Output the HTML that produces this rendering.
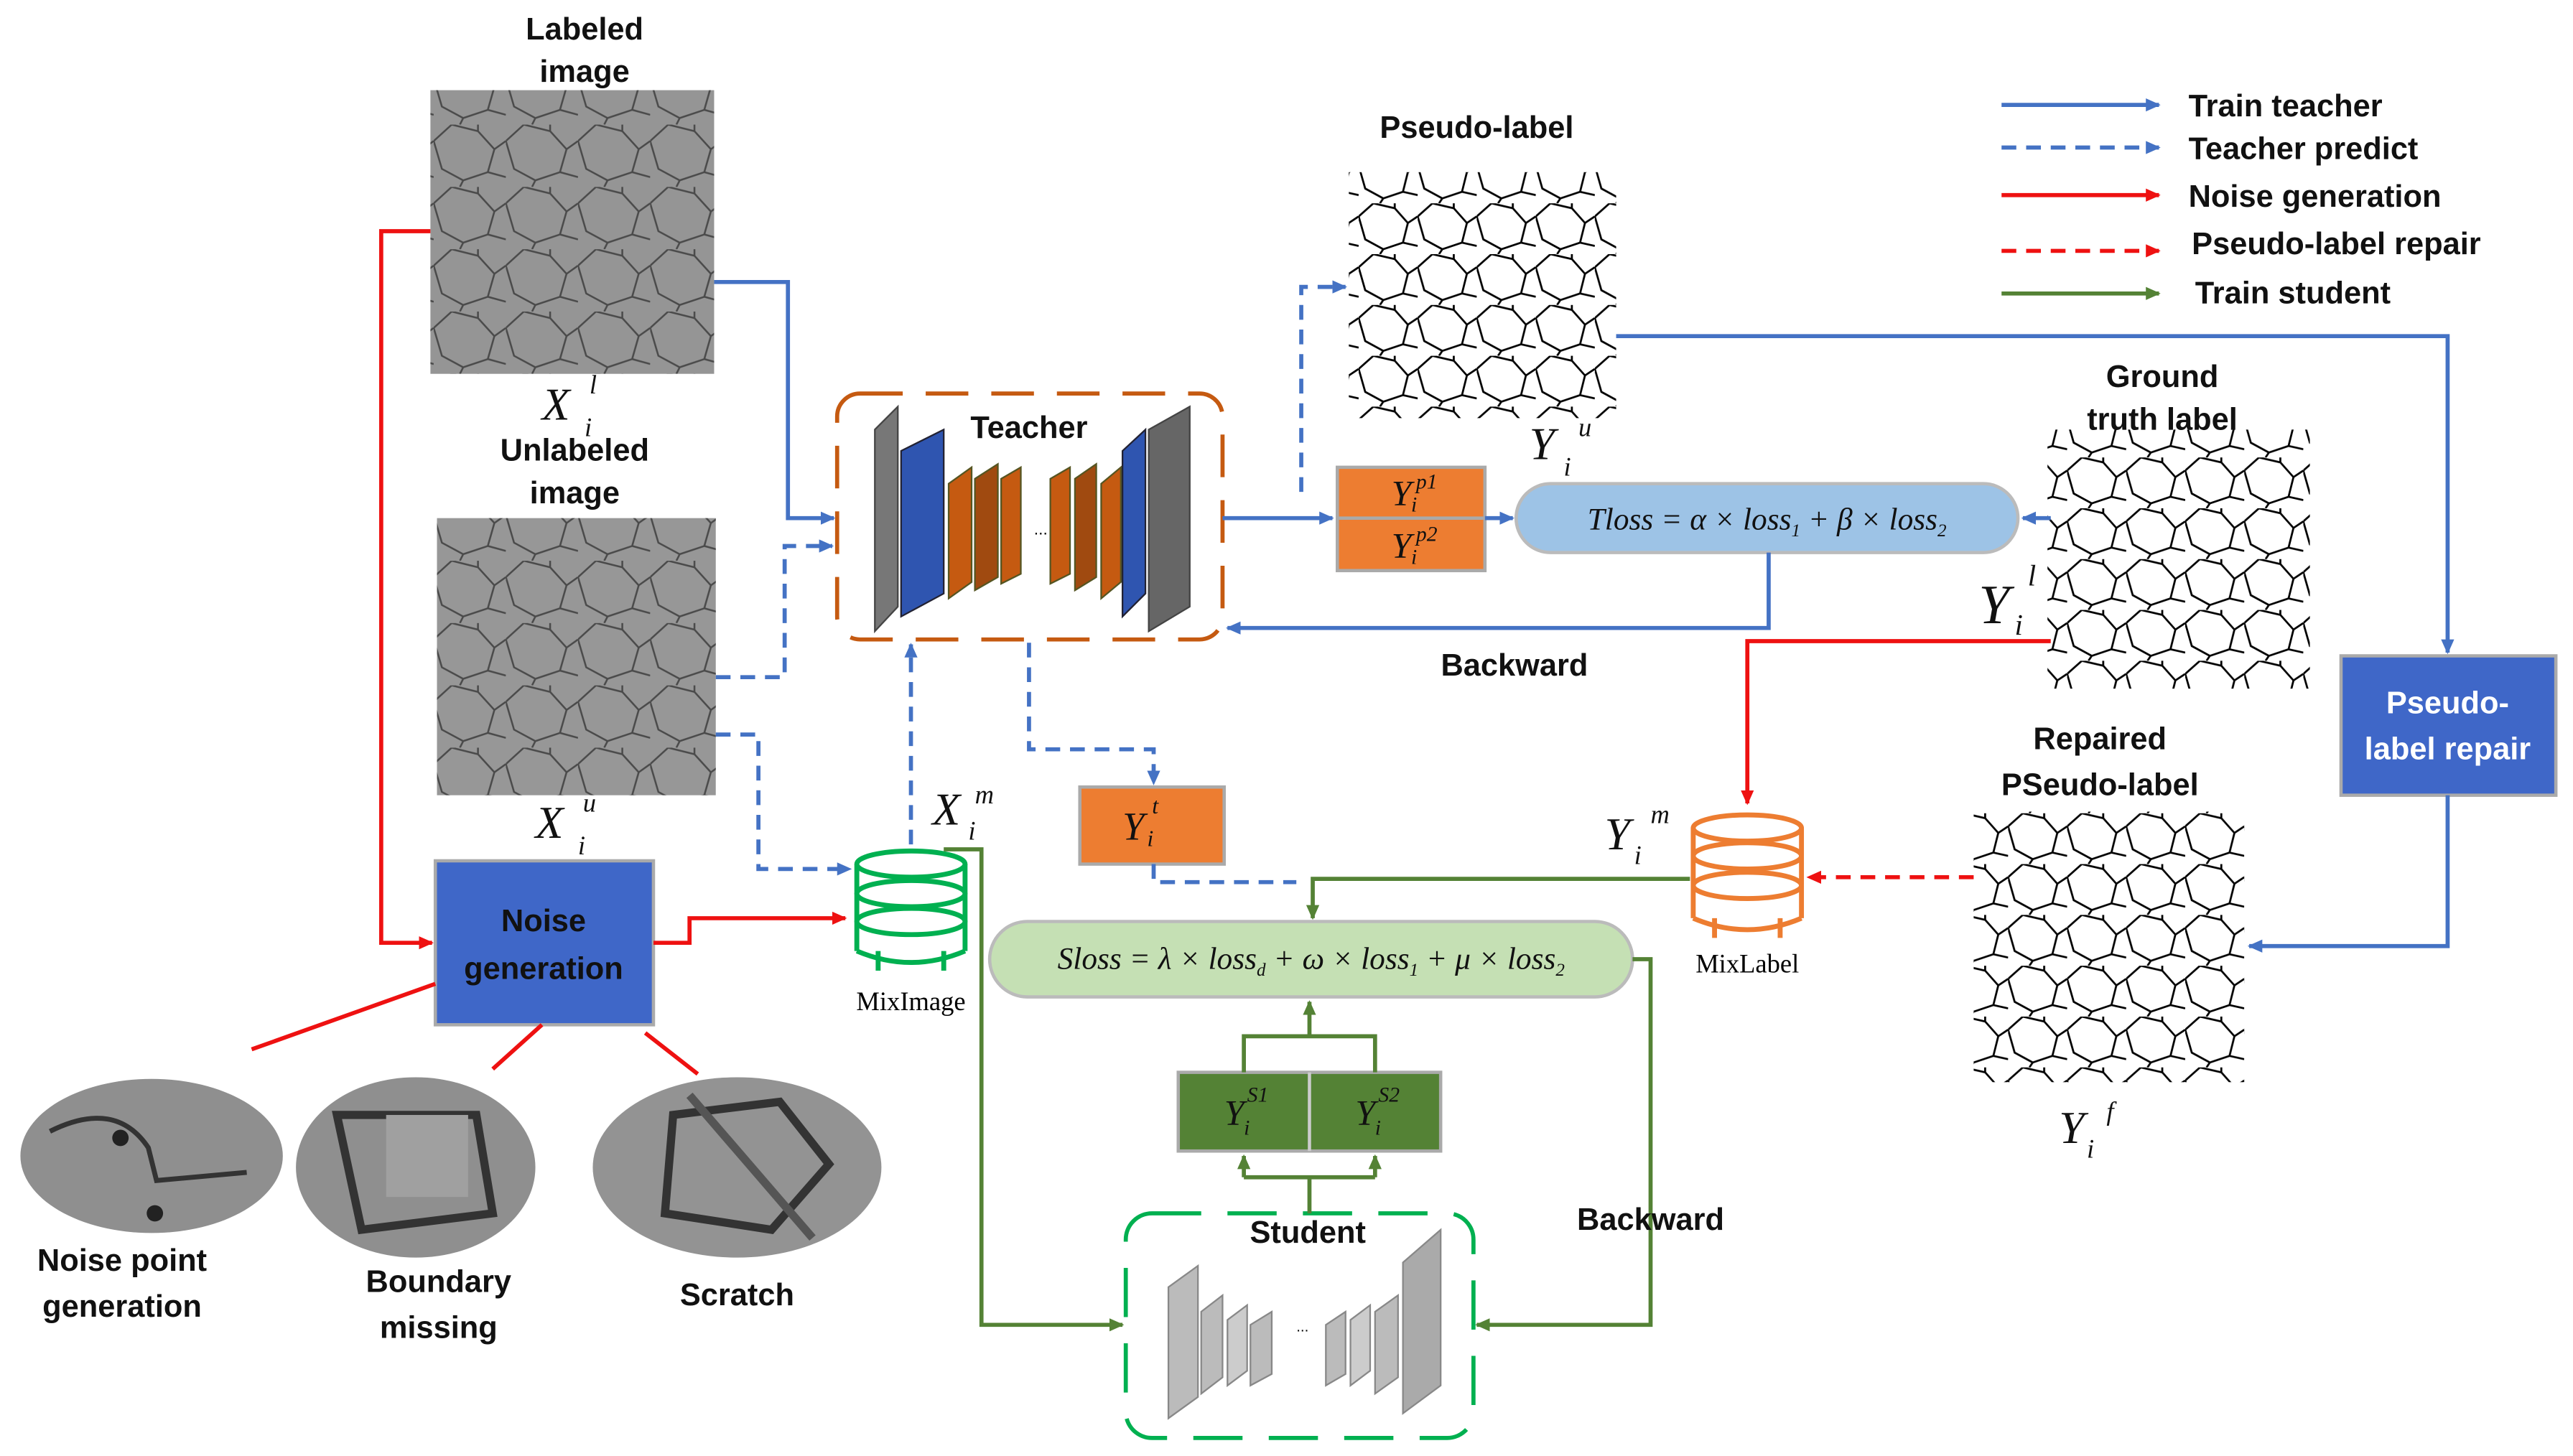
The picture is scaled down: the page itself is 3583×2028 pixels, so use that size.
<!DOCTYPE html>
<html><head><meta charset="utf-8"><style>
html,body{margin:0;padding:0;background:#fff;}
svg{display:block;}
.b{font-family:"Liberation Sans",sans-serif;font-weight:bold;font-size:19px;fill:#111;text-anchor:middle;}
.m{font-family:"Liberation Serif",serif;font-style:italic;fill:#111;}
.lg{font-family:"Liberation Sans",sans-serif;font-weight:bold;font-size:19px;fill:#111;}
</style></head><body>
<svg width="3583" height="2028" viewBox="0 0 1568 888" xmlns="http://www.w3.org/2000/svg">
<defs>
<pattern id="hexg" width="44" height="38" patternUnits="userSpaceOnUse">
<path d="M0 10 L11 0 L27 4 L37 15 L44 10 M37 15 L33 29 L18 34 L5 27 L0 10 M18 34 L16 38 M27 4 L27 0 M33 29 L44 32" stroke="#4a4a4a" stroke-width="1.1" fill="none"/>
</pattern>
<pattern id="hexw" width="36" height="31" patternUnits="userSpaceOnUse">
<path d="M0 8 L9 0 L22 3 L30 12 L36 8 M30 12 L27 24 L15 28 L4 22 L0 8 M15 28 L13 31 M22 3 L22 0 M27 24 L36 26" stroke="#000" stroke-width="1.2" fill="none"/>
</pattern>
<marker id="ab" markerWidth="10" markerHeight="10" refX="8" refY="5" orient="auto" markerUnits="userSpaceOnUse"><path d="M0 1 L9 5 L0 9z" fill="#4472c4"/></marker>
<marker id="ar" markerWidth="10" markerHeight="10" refX="8" refY="5" orient="auto" markerUnits="userSpaceOnUse"><path d="M0 1 L9 5 L0 9z" fill="#ee1111"/></marker>
<marker id="ag" markerWidth="10" markerHeight="10" refX="8" refY="5" orient="auto" markerUnits="userSpaceOnUse"><path d="M0 1 L9 5 L0 9z" fill="#548235"/></marker>
</defs>

<rect x="262" y="55" width="173" height="173" fill="#959595"/><rect x="262" y="55" width="173" height="173" fill="url(#hexg)"/>
<rect x="266" y="316" width="170" height="169" fill="#979797"/><rect x="266" y="316" width="170" height="169" fill="url(#hexg)"/>
<rect x="822" y="105" width="163" height="150" fill="url(#hexw)"/>
<rect x="1248" y="262" width="160" height="158" fill="url(#hexw)"/>
<rect x="1203" y="495" width="165" height="165" fill="url(#hexw)"/>

<text class="b" x="356" y="24">Labeled</text><text class="b" x="356" y="50">image</text>
<text class="b" x="350" y="281">Unlabeled</text><text class="b" x="350" y="307">image</text>
<text class="m" x="330" y="256" font-size="28">X</text><text class="m" x="359" y="240" font-size="16">l</text><text class="m" x="356" y="266" font-size="16">i</text>
<text class="m" x="326" y="511" font-size="28">X</text><text class="m" x="355" y="495" font-size="16">u</text><text class="m" x="352" y="521" font-size="16">i</text>
<text class="b" x="900" y="84">Pseudo-label</text>
<text class="m" x="932" y="280" font-size="28">Y</text><text class="m" x="962" y="266" font-size="16">u</text><text class="m" x="953" y="290" font-size="16">i</text>
<text class="b" x="1318" y="236">Ground</text><text class="b" x="1318" y="262">truth label</text>
<text class="m" x="1206" y="380" font-size="34">Y</text><text class="m" x="1236" y="357" font-size="18">l</text><text class="m" x="1228" y="387" font-size="18">i</text>
<text class="b" x="1280" y="457">Repaired</text><text class="b" x="1280" y="485">PSeudo-label</text>
<text class="m" x="1255" y="697" font-size="28">Y</text><text class="m" x="1284" y="683" font-size="16">f</text><text class="m" x="1272" y="706" font-size="16">i</text>
<text class="m" x="978" y="518" font-size="28">Y</text><text class="m" x="1006" y="502" font-size="16">m</text><text class="m" x="996" y="527" font-size="16">i</text>
<text class="m" x="568" y="503" font-size="28">X</text><text class="m" x="594" y="490" font-size="16">m</text><text class="m" x="590" y="512" font-size="16">i</text>

<rect x="265" y="525" width="133" height="100" fill="#3f67c8" stroke="#aaa" stroke-width="2"/>
<text class="b" x="331" y="568" font-size="20">Noise</text><text class="b" x="331" y="597" font-size="20">generation</text>
<rect x="1427" y="400" width="131" height="85" fill="#3f67c8" stroke="#aaa" stroke-width="2"/>
<text class="b" x="1492" y="435" font-size="20" style="fill:#fff">Pseudo-</text><text class="b" x="1492" y="463" font-size="20" style="fill:#fff">label repair</text>

<ellipse cx="92" cy="705" rx="80" ry="47" fill="#8f8f8f"/><path d="M30 690 Q70 670 90 700 L95 720 L150 715" stroke="#333" stroke-width="3" fill="none"/><circle cx="73" cy="694" r="5" fill="#222"/><circle cx="94" cy="740" r="5" fill="#222"/>
<ellipse cx="253" cy="712" rx="73" ry="55" fill="#8f8f8f"/><path d="M205 680 L290 680 L300 740 L220 750 Z" stroke="#333" stroke-width="5" fill="none"/><rect x="235" y="680" width="50" height="50" fill="#a0a0a0"/>
<ellipse cx="449" cy="712" rx="88" ry="55" fill="#939393"/><path d="M410 680 L475 672 L505 710 L470 750 L405 740 Z" stroke="#333" stroke-width="5" fill="none"/><path d="M420 668 L495 755" stroke="#555" stroke-width="5"/>
<text class="b" x="74" y="775">Noise point</text><text class="b" x="74" y="803">generation</text>
<text class="b" x="267" y="788">Boundary</text><text class="b" x="267" y="816">missing</text>
<text class="b" x="449" y="796">Scratch</text>
<g stroke="#ee1111" stroke-width="2.5" fill="none">
<path d="M265 600 L153 640"/><path d="M330 625 L300 652"/><path d="M393 630 L425 655"/>
<path d="M262 141 L232 141 L232 575 L263 575" marker-end="url(#ar)"/>
<path d="M398 575 L420 575 L420 560 L515 560" marker-end="url(#ar)"/>
<path d="M1250 391 L1065 391 L1065 490" marker-end="url(#ar)"/>
<path d="M1203 535 L1102 535" stroke-dasharray="9,6" marker-end="url(#ar)"/>
</g>

<rect x="510" y="240" width="235" height="150" rx="14" fill="none" stroke="#c55a11" stroke-width="2.5" stroke-dasharray="26,14"/>
<text class="b" x="627" y="267" font-size="20">Teacher</text>
<path d="M533 262 L547 248 L547 370 L533 385Z" fill="#777" stroke="#444"/>
<path d="M549 275 L575 262 L575 362 L549 376Z" fill="#2f55b0" stroke="#223"/>
<path d="M578 295 L592 285 L592 355 L578 365Z" fill="#c55a11" stroke="#552"/>
<path d="M594 292 L608 283 L608 352 L594 360Z" fill="#a04a10" stroke="#552"/>
<path d="M610 292 L622 285 L622 350 L610 356Z" fill="#c55a11" stroke="#552"/>
<text x="630" y="326" font-size="10" font-family="Liberation Sans">...</text>
<path d="M640 292 L652 285 L652 350 L640 356Z" fill="#c55a11" stroke="#552"/>
<path d="M655 292 L668 283 L668 352 L655 360Z" fill="#a04a10" stroke="#552"/>
<path d="M671 295 L683 285 L683 355 L671 365Z" fill="#c55a11" stroke="#552"/>
<path d="M684 275 L698 262 L698 362 L684 376Z" fill="#2f55b0" stroke="#223"/>
<path d="M700 262 L725 248 L725 370 L700 385Z" fill="#666" stroke="#444"/>

<rect x="815" y="285" width="90" height="63" fill="#ed7d31" stroke="#aaa" stroke-width="2"/><line x1="815" y1="316" x2="905" y2="316" stroke="#aaa" stroke-width="2"/>
<text class="m" x="848" y="308" font-size="22">Y</text><text class="m" x="863" y="298" font-size="13">p1</text><text class="m" x="860" y="312" font-size="13">i</text>
<text class="m" x="848" y="340" font-size="22">Y</text><text class="m" x="863" y="330" font-size="13">p2</text><text class="m" x="860" y="344" font-size="13">i</text>
<rect x="658" y="480" width="88" height="47" fill="#ed7d31" stroke="#aaa" stroke-width="2"/>
<text class="m" x="684" y="512" font-size="24">Y</text><text class="m" x="702" y="496" font-size="14">t</text><text class="m" x="699" y="516" font-size="14">i</text>

<rect x="924" y="295" width="306" height="42" rx="21" fill="#9dc3e6" stroke="#bbb" stroke-width="2"/>
<text class="m" x="1077" y="323" font-size="19" text-anchor="middle">Tloss = α × loss<tspan font-size="11" dy="4">1</tspan><tspan dy="-4"> + β × loss</tspan><tspan font-size="11" dy="4">2</tspan></text>
<rect x="603" y="562" width="392" height="46" rx="23" fill="#c5e0b4" stroke="#bbb" stroke-width="2"/>
<text class="m" x="799" y="591" font-size="19" text-anchor="middle">Sloss = λ × loss<tspan font-size="11" dy="4">d</tspan><tspan dy="-4"> + ω × loss</tspan><tspan font-size="11" dy="4">1</tspan><tspan dy="-4"> + μ × loss</tspan><tspan font-size="11" dy="4">2</tspan></text>

<g stroke="#00b050" stroke-width="3" fill="#fff">
<path d="M522 527 L522 580 M588 527 L588 580"/>
<ellipse cx="555" cy="527" rx="33" ry="8"/><ellipse cx="555" cy="545" rx="33" ry="8" fill="none"/><ellipse cx="555" cy="562" rx="33" ry="8" fill="none"/>
<path d="M522 580 Q555 594 588 580 M535 580 L535 592 M575 580 L575 592"/>
</g>
<text x="555" y="616" font-size="16" font-family="Liberation Serif" text-anchor="middle">MixImage</text>
<g stroke="#ed7d31" stroke-width="3" fill="#fff">
<path d="M1032 505 L1032 560 M1098 505 L1098 560"/>
<ellipse cx="1065" cy="505" rx="33" ry="8"/><ellipse cx="1065" cy="522" rx="33" ry="8" fill="none"/><ellipse cx="1065" cy="540" rx="33" ry="8" fill="none"/>
<path d="M1032 560 Q1065 574 1098 560 M1045 560 L1045 572 M1085 560 L1085 572"/>
</g>
<text x="1065" y="593" font-size="16" font-family="Liberation Serif" text-anchor="middle">MixLabel</text>

<rect x="686" y="740" width="212" height="137" rx="16" fill="none" stroke="#00b050" stroke-width="2.5" stroke-dasharray="30,16"/>
<text class="b" x="797" y="758" font-size="20">Student</text>
<path d="M712 785 L730 772 L730 852 L712 865Z" fill="#bbb" stroke="#888"/>
<path d="M732 800 L745 790 L745 840 L732 850Z" fill="#bbb" stroke="#888"/>
<path d="M748 805 L760 796 L760 836 L748 845Z" fill="#ccc" stroke="#888"/>
<path d="M762 808 L775 800 L775 838 L762 845Z" fill="#bbb" stroke="#888"/>
<text x="790" y="812" font-size="9" font-family="Liberation Sans">...</text>
<path d="M808 808 L820 800 L820 838 L808 845Z" fill="#bbb" stroke="#888"/>
<path d="M823 805 L835 796 L835 836 L823 845Z" fill="#ccc" stroke="#888"/>
<path d="M838 800 L852 790 L852 840 L838 850Z" fill="#bbb" stroke="#888"/>
<path d="M855 770 L878 750 L878 845 L855 862Z" fill="#aaa" stroke="#888"/>
<rect x="718" y="654" width="160" height="48" fill="#548235" stroke="#aaa" stroke-width="2"/><line x1="798" y1="654" x2="798" y2="702" stroke="#ccc" stroke-width="2"/>
<text class="m" x="746" y="686" font-size="22">Y</text><text class="m" x="760" y="672" font-size="13">S1</text><text class="m" x="758" y="692" font-size="13">i</text>
<text class="m" x="826" y="686" font-size="22">Y</text><text class="m" x="840" y="672" font-size="13">S2</text><text class="m" x="838" y="692" font-size="13">i</text>

<g stroke="#4472c4" stroke-width="2.5" fill="none">
<path d="M435 172 L480 172 L480 316 L508 316" marker-end="url(#ab)"/>
<path d="M745 316 L812 316" marker-end="url(#ab)"/>
<path d="M905 316 L922 316" marker-end="url(#ab)"/>
<path d="M1250 316 L1233 316" marker-end="url(#ab)"/>
<path d="M1078 337 L1078 383 L748 383" marker-end="url(#ab)"/>
<path d="M985 205 L1492 205 L1492 398" marker-end="url(#ab)"/>
<path d="M1492 485 L1492 577 L1371 577" marker-end="url(#ab)"/>
<g stroke-dasharray="9,6">
<path d="M436 413 L478 413 L478 333 L507 333" marker-end="url(#ab)"/>
<path d="M436 448 L462 448 L462 530 L518 530" marker-end="url(#ab)"/>
<path d="M555 515 L555 393" marker-end="url(#ab)"/>
<path d="M627 392 L627 457 L703 457 L703 478" marker-end="url(#ab)"/>
<path d="M703 527 L703 538 L790 538"/>
<path d="M793 300 L793 175 L820 175" marker-end="url(#ab)"/>
</g>
</g>
<text class="b" x="923" y="412">Backward</text>

<g stroke="#548235" stroke-width="2.5" fill="none">
<path d="M1030 536 L800 536 L800 560" marker-end="url(#ag)"/>
<path d="M575 518 L598 518 L598 808 L684 808" marker-end="url(#ag)"/>
<path d="M995 585 L1006 585 L1006 808 L900 808" marker-end="url(#ag)"/>
<path d="M798 740 L798 718 L758 718 M798 718 L838 718"/>
<path d="M758 718 L758 705" marker-end="url(#ag)"/><path d="M838 718 L838 705" marker-end="url(#ag)"/>
<path d="M758 654 L758 632 L838 632 L838 654 M798 632 L798 611" marker-end="url(#ag)"/>
</g>
<text class="b" x="1006" y="750">Backward</text>

<g stroke-width="2.5" fill="none">
<path d="M1220 64 L1316 64" stroke="#4472c4" marker-end="url(#ab)"/>
<path d="M1220 90 L1316 90" stroke="#4472c4" stroke-dasharray="9,6" marker-end="url(#ab)"/>
<path d="M1220 119 L1316 119" stroke="#ee1111" marker-end="url(#ar)"/>
<path d="M1220 153 L1316 153" stroke="#ee1111" stroke-dasharray="9,6" marker-end="url(#ar)"/>
<path d="M1220 179 L1316 179" stroke="#548235" marker-end="url(#ag)"/>
</g>
<text class="lg" x="1334" y="71">Train teacher</text>
<text class="lg" x="1334" y="97">Teacher predict</text>
<text class="lg" x="1334" y="126">Noise generation</text>
<text class="lg" x="1336" y="155">Pseudo-label repair</text>
<text class="lg" x="1338" y="185">Train student</text>
</svg>
</body></html>
